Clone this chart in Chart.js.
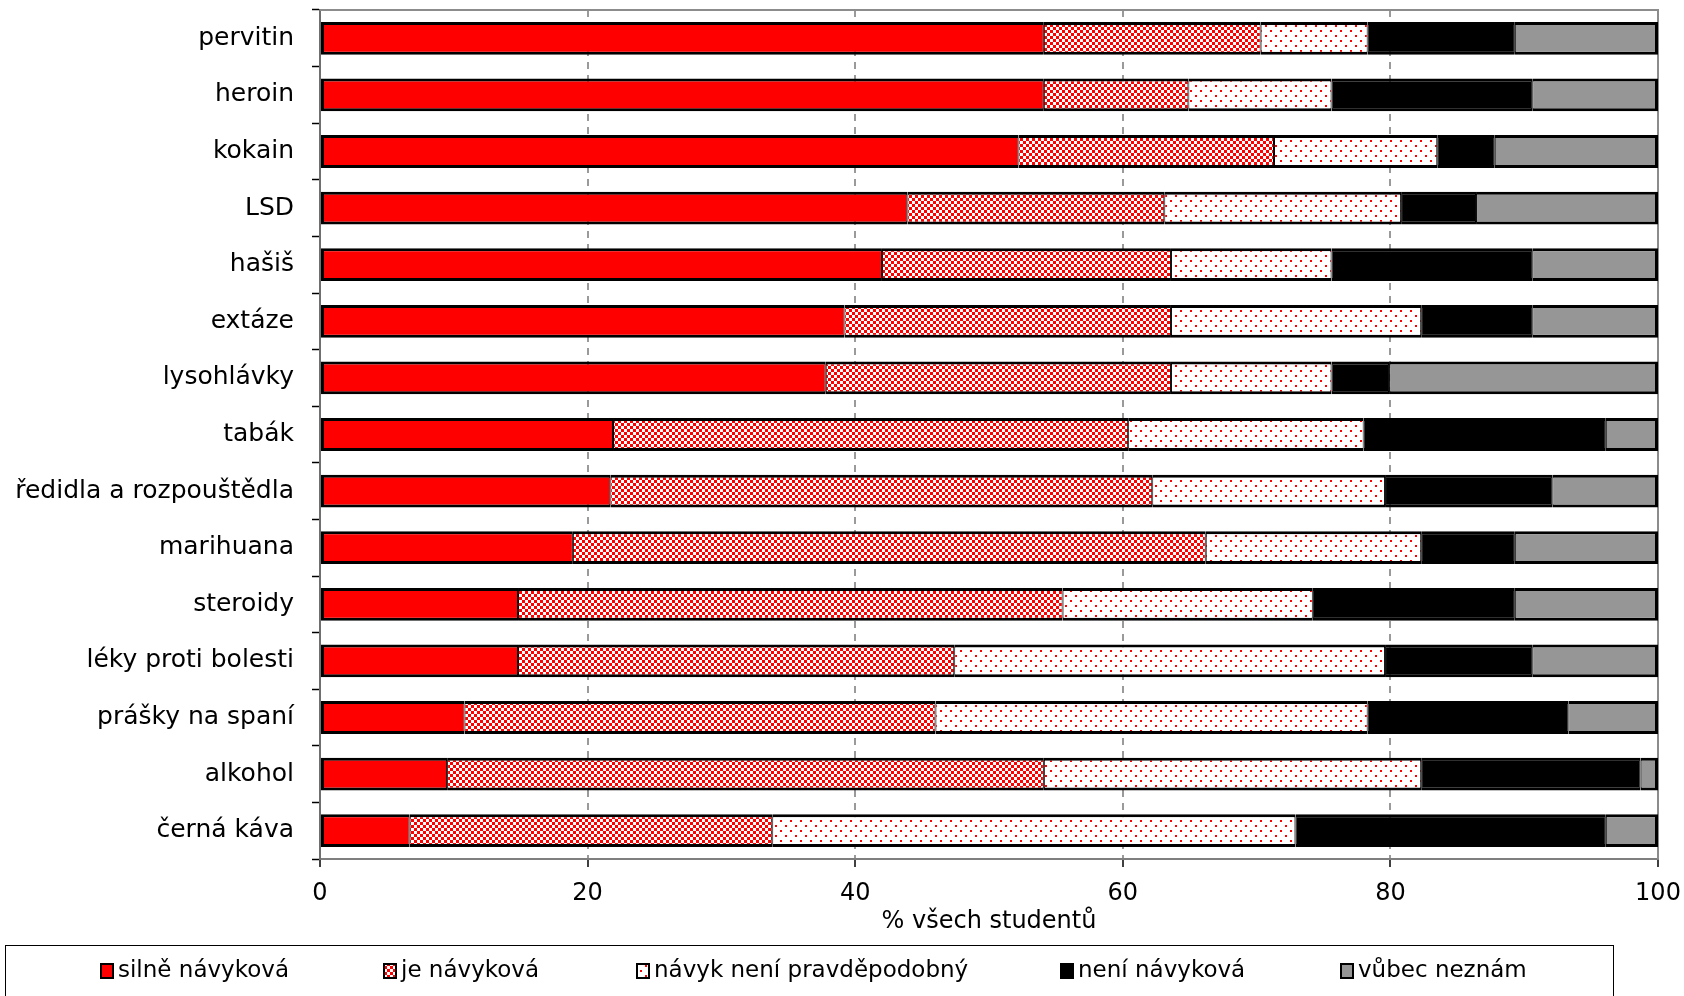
<!DOCTYPE html>
<html><head><meta charset="utf-8">
<script src="https://cdn.jsdelivr.net/npm/chart.js@4"></script>
<style>html,body{margin:0;padding:0;background:#fff;}</style>
</head><body>
<canvas id="c" width="1684" height="996"></canvas>
<script>
const categories = ['pervitin','heroin','kokain','LSD','hašiš','extáze','lysohlávky','tabák','ředidla a rozpouštědla','marihuana','steroidy','léky proti bolesti','prášky na spaní','alkohol','černá káva'];
const silneNavykova = [54.1,54.1,52.2,43.9,42.0,39.2,37.8,21.9,21.7,18.9,14.8,14.8,10.8,9.5,6.7];
const jeNavykova = [16.2,10.8,19.1,19.2,21.6,24.4,25.8,38.5,40.5,47.3,40.7,32.6,35.2,44.6,27.1];
const navykNeniPravdepodobny = [8.0,10.7,12.2,17.7,12.0,18.7,12.0,17.6,17.4,16.1,18.7,32.2,32.3,28.2,39.1];
const neniNavykova = [11.0,15.0,4.3,5.6,15.0,8.3,4.3,18.1,12.5,7.0,15.1,11.0,15.0,16.4,23.2];
const vubecNeznam = [10.7,9.4,12.2,13.6,9.4,9.4,20.1,3.9,7.9,10.7,10.7,9.4,6.7,1.3,3.9];
const seriesNames = ['silně návyková','je návyková','návyk není pravděpodobný','není návyková','vůbec neznám'];
const xTickValues = [0,20,40,60,80,100];
const xTitle = '% všech studentů';

const FONT = "'DejaVu Sans', sans-serif";
const RED = '#ff0000';

function makeChecker() {
  const c = document.createElement('canvas'); c.width = 6; c.height = 6;
  const g = c.getContext('2d');
  g.fillStyle = '#fff'; g.fillRect(0,0,6,6);
  g.fillStyle = RED; g.fillRect(0,0,3,3); g.fillRect(3,3,3,3);
  return g.createPattern(c, 'repeat');
}
function makeDots() {
  const c = document.createElement('canvas'); c.width = 10; c.height = 10;
  const g = c.getContext('2d');
  g.fillStyle = '#fff'; g.fillRect(0,0,10,10);
  g.fillStyle = RED; g.fillRect(0,0,2,2); g.fillRect(5,5,2,2);
  return g.createPattern(c, 'repeat');
}
const fills = [RED, makeChecker(), makeDots(), '#000000', '#969696'];
const seriesData = [silneNavykova, jeNavykova, navykNeniPravdepodobny, neniNavykova, vubecNeznam];

const legendMarkerX = [100, 383, 636, 1060, 1340];

const framePlugin = {
  id: 'frame',
  beforeDatasetsDraw(chart) {
    const a = chart.chartArea, ctx = chart.ctx;
    ctx.save();
    ctx.strokeStyle = '#8c8c8c'; ctx.lineWidth = 2;
    ctx.beginPath();
    ctx.moveTo(a.left, a.top); ctx.lineTo(a.right, a.top); ctx.lineTo(a.right, a.bottom);
    ctx.stroke();
    ctx.restore();
  },
  afterDraw(chart) {
    const ctx = chart.ctx;
    ctx.save();
    ctx.strokeStyle = '#000'; ctx.lineWidth = 1;
    ctx.strokeRect(5.5, 945.5, 1608, 80);
    ctx.font = '23px ' + FONT;
    ctx.textBaseline = 'middle';
    const yc = 971;
    chart.data.datasets.forEach((ds, i) => {
      const x = legendMarkerX[i];
      ctx.fillStyle = '#000';
      ctx.fillRect(x, yc - 8, 14, 16);
      ctx.fillStyle = ds.backgroundColor;
      ctx.fillRect(x + 2, yc - 6, 10, 12);
      ctx.fillStyle = '#000';
      ctx.fillText(ds.label, x + 18, yc);
    });
    ctx.restore();
  }
};

const last = seriesNames.length - 1;
new Chart(document.getElementById('c'), {
  type: 'bar',
  data: {
    labels: categories,
    datasets: seriesNames.map((n, i) => ({
      label: n,
      data: seriesData[i],
      backgroundColor: fills[i],
      borderColor: '#000',
      borderWidth: { top: 3, bottom: 3, left: i === 0 ? 3 : 1, right: i === last ? 3 : 1 },
      borderSkipped: false,
      barPercentage: 0.58,
      categoryPercentage: 1.0
    }))
  },
  options: {
    indexAxis: 'y',
    responsive: false,
    animation: false,
    layout: { padding: { top: 10, right: 26, bottom: 60, left: 0 } },
    plugins: { legend: { display: false }, tooltip: { enabled: false } },
    scales: {
      x: {
        stacked: true, min: 0, max: 100,
        afterFit: s => { s.height = 77; s.paddingLeft = 0; s.paddingRight = 0; },
        afterBuildTicks: s => { s.ticks = xTickValues.map(v => ({ value: v })); },
        ticks: { color: '#000', font: { family: FONT, size: 24 }, padding: 12 },
        grid: { color: '#9a9a9a', lineWidth: 2, tickColor: '#000', tickLength: 8, tickWidth: 1.5 },
        border: { color: '#7f7f7f', width: 2, dash: [7, 6] },
        title: { display: true, text: xTitle, color: '#000', font: { family: FONT, size: 24 }, padding: { top: 0, bottom: 0 } }
      },
      y: {
        stacked: true,
        afterFit: s => { s.width = 320; s.paddingTop = 0; s.paddingBottom = 0; },
        ticks: { color: '#000', font: { family: FONT, size: 25 }, padding: 18 },
        grid: { offset: true, drawOnChartArea: false, tickColor: '#000', tickLength: 8, tickWidth: 1.5 },
        border: { color: '#6f6f6f', width: 2 }
      }
    }
  },
  plugins: [framePlugin]
});
</script>
</body></html>
